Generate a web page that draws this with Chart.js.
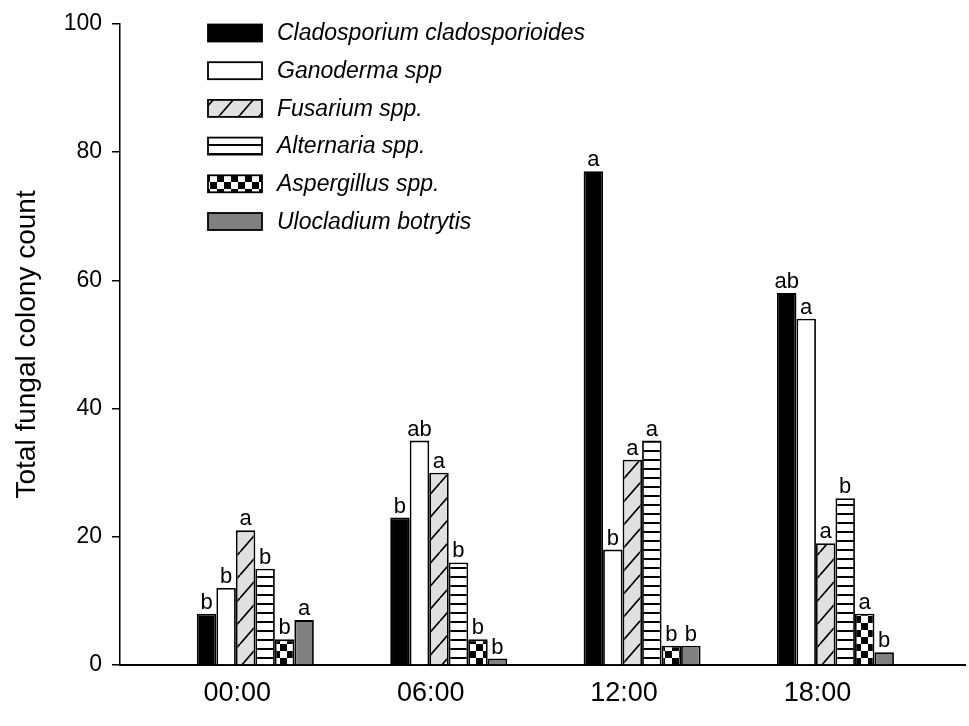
<!DOCTYPE html>
<html>
<head>
<meta charset="utf-8">
<title>Total fungal colony count</title>
<script src="https://cdn.jsdelivr.net/npm/chart.js@4.4.1/dist/chart.umd.min.js"></script>
<style>
  body { margin: 0; background: #fff; }
  #wrap { width: 969px; height: 726px; }
</style>
</head>
<body>
<div id="wrap"><canvas id="chart" width="969" height="726"></canvas></div>
<script>
// sampling times (x categories)
const times = ['00:00', '06:00', '12:00', '18:00'];

// fungi in legend order
const species = [
  'Cladosporium cladosporioides',
  'Ganoderma spp',
  'Fusarium spp.',
  'Alternaria spp.',
  'Aspergillus spp.',
  'Ulocladium botrytis'
];

// colony counts per time
const cladosporium = [8, 23, 77, 58];
const ganoderma = [12, 35, 18, 54];
const fusarium = [21, 30, 32, 19];
const alternaria = [15, 16, 35, 26];
const aspergillus = [4, 4, 3, 8];
const ulocladium = [7, 1, 3, 2];

// significance letters above bars
const cladosporiumLetters = ['b', 'b', 'a', 'ab'];
const ganodermaLetters = ['b', 'ab', 'b', 'a'];
const fusariumLetters = ['a', 'a', 'a', 'a'];
const alternariaLetters = ['b', 'b', 'a', 'b'];
const aspergillusLetters = ['b', 'b', 'b', 'a'];
const ulocladiumLetters = ['a', 'b', 'b', 'b'];

const yTicks = [0, 20, 40, 60, 80, 100];

const FONT = '"Liberation Sans", Arial, sans-serif';

function makeTile(w, h, draw) {
  const c = document.createElement('canvas');
  c.width = w;
  c.height = h;
  draw(c.getContext('2d'), w, h);
  return c.getContext('2d').createPattern(c, 'repeat');
}

const hatchFill = makeTile(20, 23, (g, w, h) => {
  g.fillStyle = '#e0e0e0';
  g.fillRect(0, 0, w, h);
  g.strokeStyle = '#000';
  g.lineWidth = 1.7;
  g.beginPath();
  for (let k = -1; k <= 1; k++) {
    g.moveTo(k * w, h);
    g.lineTo(k * w + w, 0);
  }
  g.stroke();
});

const stripeFill = makeTile(10, 9, (g, w, h) => {
  g.fillStyle = '#fff';
  g.fillRect(0, 0, w, h);
  g.fillStyle = '#000';
  g.fillRect(0, 0, w, 2);
});

const checkFill = makeTile(14, 14, (g, w, h) => {
  g.fillStyle = '#fff';
  g.fillRect(0, 0, w, h);
  g.fillStyle = '#000';
  g.fillRect(0, 0, 7, 7);
  g.fillRect(7, 7, 7, 7);
});

const seriesValues = [cladosporium, ganoderma, fusarium, alternaria, aspergillus, ulocladium];
const seriesLetters = [cladosporiumLetters, ganodermaLetters, fusariumLetters, alternariaLetters, aspergillusLetters, ulocladiumLetters];
const fills = ['#000000', '#ffffff', hatchFill, stripeFill, checkFill, '#808080'];

const datasets = species.map((name, i) => ({
  label: name,
  data: seriesValues[i].map((v, j) => ({ x: j + 1, y: v })),
  letters: seriesLetters[i],
  backgroundColor: fills[i],
  borderColor: '#000',
  borderWidth: 1.8,
  borderSkipped: 'bottom',
  barPercentage: 1,
  categoryPercentage: 0.605
}));

// letters drawn over each bar
const letterPlugin = {
  id: 'letters',
  afterDatasetsDraw(chart) {
    const ctx = chart.ctx;
    ctx.save();
    ctx.font = '22px ' + FONT;
    ctx.fillStyle = '#000';
    ctx.textAlign = 'center';
    ctx.textBaseline = 'alphabetic';
    chart.data.datasets.forEach((ds, i) => {
      chart.getDatasetMeta(i).data.forEach((bar, j) => {
        ctx.fillText(ds.letters[j], bar.x, bar.y - 5);
      });
    });
    ctx.restore();
  }
};

// legend box in top-left of plot
const legendPlugin = {
  id: 'boxLegend',
  afterDraw(chart) {
    const ctx = chart.ctx;
    const x0 = 208, y0 = 33, step = 37.7, bw = 54, bh = 17;
    ctx.save();
    ctx.font = 'italic 23px ' + FONT;
    ctx.textBaseline = 'middle';
    ctx.textAlign = 'left';
    chart.data.datasets.forEach((ds, i) => {
      const cy = y0 + i * step;
      ctx.fillStyle = ds.backgroundColor;
      ctx.fillRect(x0, cy - bh / 2, bw, bh);
      ctx.strokeStyle = '#000';
      ctx.lineWidth = 1.8;
      ctx.strokeRect(x0, cy - bh / 2, bw, bh);
      ctx.fillStyle = '#000';
      ctx.fillText(ds.label, x0 + 69, cy + 1);
    });
    ctx.restore();
  }
};

new Chart(document.getElementById('chart'), {
  type: 'bar',
  data: { datasets: datasets },
  plugins: [letterPlugin, legendPlugin],
  options: {
    responsive: false,
    animation: false,
    layout: { padding: { top: 22, right: 4, left: 0, bottom: 0 } },
    plugins: {
      legend: { display: false },
      tooltip: { enabled: false }
    },
    scales: {
      x: {
        type: 'linear',
        min: 0.3,
        max: 4.67,
        offset: false,
        afterBuildTicks(scale) {
          scale.ticks = times.map((t, i) => ({ value: i + 1 }));
        },
        afterFit(scale) { scale.height = 61; },
        grid: { display: false, drawTicks: false },
        border: { display: true, color: '#000', width: 2 },
        ticks: {
          color: '#000',
          font: { family: FONT, size: 27 },
          padding: 12,
          labelOffset: -18,
          maxRotation: 0,
          autoSkip: false,
          callback: (v) => times[v - 1] || ''
        }
      },
      y: {
        min: 0,
        max: 100,
        afterBuildTicks(scale) {
          scale.ticks = yTicks.map(v => ({ value: v }));
        },
        afterFit(scale) { scale.width = 120; },
        grid: {
          display: true,
          drawOnChartArea: false,
          drawTicks: true,
          tickLength: 8,
          color: '#000',
          lineWidth: 1.5
        },
        border: { display: true, color: '#000', width: 1.5 },
        ticks: {
          color: '#000',
          font: { family: FONT, size: 23 },
          padding: 10
        },
        title: {
          display: true,
          text: 'Total fungal colony count',
          color: '#000',
          font: { family: FONT, size: 28 },
          padding: { top: 10, bottom: 0 }
        }
      }
    }
  }
});
</script>
</body>
</html>
